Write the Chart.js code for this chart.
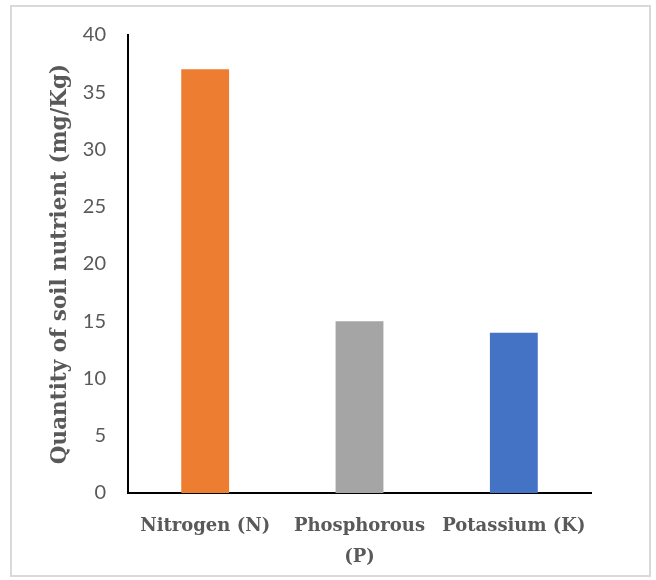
<!DOCTYPE html>
<html>
<head>
<meta charset="utf-8">
<script src="https://cdn.jsdelivr.net/npm/chart.js@4"></script>
<style>
  body { margin: 0; background: #fff; }
  #wrap { position: absolute; left: 0; top: 0; width: 656px; height: 580px; }
</style>
</head>
<body>
<div id="wrap"><canvas id="nutrientChart" width="656" height="580"></canvas></div>
<script>
// chart data
const categories = ['Nitrogen (N)', ['Phosphorous', '(P)'], 'Potassium (K)'];
const nutrientValues = [37, 15, 14];
const barColors = ['#ED7D31', '#A5A5A5', '#4472C4'];
const yTicks = [0, 5, 10, 15, 20, 25, 30, 35, 40];

// light grey frame around the whole picture
const framePlugin = {
    id: 'frame',
    beforeDraw(chart) {
        const c = chart.ctx;
        c.save();
        c.fillStyle = '#fff';
        c.fillRect(0, 0, chart.width, chart.height);
        c.strokeStyle = '#d9d9d9';
        c.lineWidth = 2;
        c.strokeRect(11, 6, 639, 570);
        c.restore();
    }
};

const ctx = document.getElementById('nutrientChart').getContext('2d');
const nutrientChart = new Chart(ctx, {
    type: 'bar',
    data: {
        labels: categories,
        datasets: [{
            data: nutrientValues,
            backgroundColor: barColors,
            categoryPercentage: 1,
            barPercentage: 0.31
        }]
    },
    options: {
        responsive: false,
        animation: false,
        devicePixelRatio: 1,
        layout: { padding: { left: 0, right: 65, top: 35, bottom: 0 } },
        plugins: {
            legend: { display: false },
            tooltip: { enabled: false }
        },
        scales: {
            x: {
                grid: { display: false, drawTicks: false },
                border: { display: true, color: '#000', width: 2 },
                ticks: {
                    color: '#595959',
                    padding: 18,
                    maxRotation: 0,
                    autoSkip: false,
                    font: { family: 'DejaVu Serif', size: 18, weight: 'bold', lineHeight: 1.7 }
                },
                afterFit(scale) { scale.height = 87; }
            },
            y: {
                min: 0,
                max: 40,
                afterBuildTicks(scale) { scale.ticks = yTicks.map(v => ({ value: v })); },
                grid: { display: false, drawTicks: false },
                border: { display: true, color: '#000', width: 2 },
                ticks: {
                    color: '#595959',
                    padding: 22,
                    font: { family: 'Lato', size: 20 }
                },
                title: {
                    display: true,
                    text: 'Quantity of soil nutrient (mg/Kg)',
                    color: '#595959',
                    padding: { top: 48, bottom: 0 },
                    font: { family: 'DejaVu Serif', size: 21.5, weight: 'bold' }
                },
                afterFit(scale) { scale.width = 128; }
            }
        }
    },
    plugins: [framePlugin]
});
</script>
</body>
</html>
